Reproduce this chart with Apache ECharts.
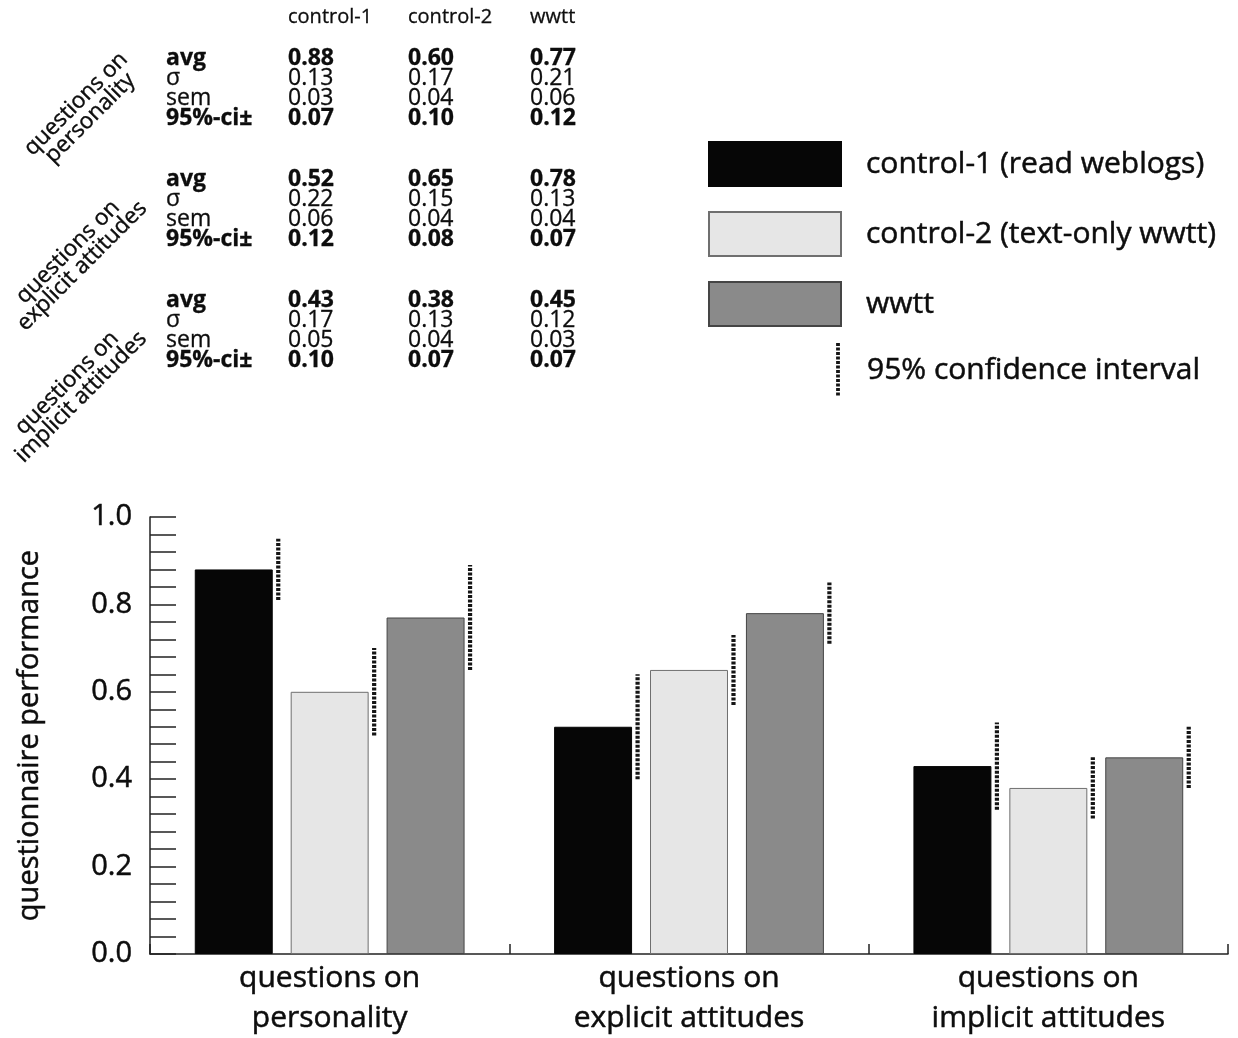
<!DOCTYPE html>
<html>
<head>
<meta charset="utf-8">
<script src="https://cdn.jsdelivr.net/npm/echarts@6/dist/echarts.min.js"></script>
<style>
html,body{margin:0;padding:0;background:#fff;}
#chart{width:1238px;height:1038px;}
</style>
</head>
<body>
<div id="chart"></div>
<script>
// ---------- data ----------
var categories = ['questions on\npersonality', 'questions on\nexplicit attitudes', 'questions on\nimplicit attitudes'];
var seriesNames = ['control-1 (read weblogs)', 'control-2 (text-only wwtt)', 'wwtt'];
var tableColumns = ['control-1', 'control-2', 'wwtt'];
var tableRowLabels = ['avg', 'σ', 'sem', '95%-ci±'];

var control1Avg = [0.88, 0.52, 0.43];
var control2Avg = [0.60, 0.65, 0.38];
var wwttAvg     = [0.77, 0.78, 0.45];

var control1Sigma = [0.13, 0.22, 0.17];
var control2Sigma = [0.17, 0.15, 0.13];
var wwttSigma     = [0.21, 0.13, 0.12];

var control1Sem = [0.03, 0.06, 0.05];
var control2Sem = [0.04, 0.04, 0.04];
var wwttSem     = [0.06, 0.04, 0.03];

var control1Ci = [0.07, 0.12, 0.10];
var control2Ci = [0.10, 0.08, 0.07];
var wwttCi     = [0.12, 0.07, 0.07];

var ciLegendLabel = '95% confidence interval';
var yAxisName = 'questionnaire performance';

// ---------- derived ----------
var avgs = [control1Avg, control2Avg, wwttAvg];
var cis = [control1Ci, control2Ci, wwttCi];

var errData = [];
for (var k = 0; k < 3; k++) {
  for (var i = 0; i < categories.length; i++) {
    errData.push([i, avgs[k][i] - cis[k][i], avgs[k][i] + cis[k][i], k]);
  }
}

var BAR_W = 0.217, BAR_GAP = 0.23;
var FONT = "'Open Sans', 'Noto Sans', sans-serif";
var INK = '#0d0d0d';

var barStyles = [
  {color: '#060606', borderColor: '#060606', borderWidth: 1},
  {color: '#e6e6e6', borderColor: '#6f6f6f', borderWidth: 1},
  {color: '#8a8a8a', borderColor: '#454545', borderWidth: 1}
];

var series = [];
for (var s = 0; s < 3; s++) {
  series.push({
    name: seriesNames[s],
    type: 'bar',
    data: avgs[s],
    barWidth: (BAR_W * 100) + '%',
    barGap: (BAR_GAP * 100) + '%',
    itemStyle: barStyles[s],
    emphasis: {disabled: true},
    animation: false
  });
}
series.push({
  name: ciLegendLabel,
  type: 'custom',
  data: errData,
  encode: {x: 0, y: [1, 2]},
  animation: false,
  z: 5,
  renderItem: function (params, api) {
    var cat = api.value(0), lo = api.value(1), hi = api.value(2), k = api.value(3);
    var band = api.size([1, 0])[0];
    var bw = band * BAR_W;
    var gap = bw * BAR_GAP;
    var center = api.coord([cat, 0])[0];
    var x = center + (k - 1) * (bw + gap) + bw / 2 + 5.5;
    var p1 = api.coord([cat, lo]);
    var p2 = api.coord([cat, hi]);
    return {
      type: 'line',
      shape: {x1: x, y1: p1[1], x2: x, y2: p2[1]},
      style: {stroke: '#151515', lineWidth: 4.2, lineDash: [3, 1.5]}
    };
  }
});

// ---------- table + labels as graphic ----------
var graphics = [];
var colX = [288, 408, 530];
var groupY = [58, 179, 300];
var rowStep = 20;
for (var c = 0; c < 3; c++) {
  graphics.push({type: 'text', x: colX[c], y: 17, style: {text: tableColumns[c], font: '20px ' + FONT, fill: INK, stroke: INK, lineWidth: 0.3, textAlign: 'left', textVerticalAlign: 'middle'}});
}
var groupLabels = ['questions on\npersonality', 'questions on\nexplicit attitudes', 'questions on\nimplicit attitudes'];
var groupLabelPos = [[83, 111], [75, 259], [74, 390]];
for (var g = 0; g < 3; g++) {
  graphics.push({
    type: 'text', x: groupLabelPos[g][0], y: groupLabelPos[g][1], rotation: Math.PI / 4,
    style: {text: groupLabels[g], font: '22.5px ' + FONT, fill: INK, stroke: INK, lineWidth: 0.4, textAlign: 'center', textVerticalAlign: 'middle', lineHeight: 20}
  });
  var rowsVals = [
    [control1Avg[g], control2Avg[g], wwttAvg[g]],
    [control1Sigma[g], control2Sigma[g], wwttSigma[g]],
    [control1Sem[g], control2Sem[g], wwttSem[g]],
    [control1Ci[g], control2Ci[g], wwttCi[g]]
  ];
  for (var r = 0; r < 4; r++) {
    var bold = (r === 0 || r === 3);
    var f = (bold ? 'bold ' : '') + '23px ' + FONT;
    var y = groupY[g] + r * rowStep;
    graphics.push({type: 'text', x: 166, y: y, style: {text: tableRowLabels[r], font: f, fill: INK, stroke: INK, lineWidth: 0.3, textAlign: 'left', textVerticalAlign: 'middle'}});
    for (var c2 = 0; c2 < 3; c2++) {
      graphics.push({type: 'text', x: colX[c2], y: y, style: {text: rowsVals[r][c2].toFixed(2), font: f, fill: INK, stroke: INK, lineWidth: 0.3, textAlign: 'left', textVerticalAlign: 'middle'}});
    }
  }
}
// CI legend item
graphics.push({type: 'line', shape: {x1: 838, y1: 343, x2: 838, y2: 397}, style: {stroke: '#151515', lineWidth: 3.8, lineDash: [3, 1.5]}});
graphics.push({type: 'text', x: 867, y: 370, style: {text: ciLegendLabel, font: '30px ' + FONT, fill: INK, stroke: INK, lineWidth: 0.5, textAlign: 'left', textVerticalAlign: 'middle'}});

var chart = echarts.init(document.getElementById('chart'), null, {renderer: 'canvas'});
chart.setOption({
  backgroundColor: '#ffffff',
  animation: false,
  textStyle: {fontFamily: FONT},
  grid: {left: 150, right: 10, top: 517, bottom: 82, containLabel: false},
  legend: {
    data: seriesNames,
    icon: 'rect',
    orient: 'vertical',
    left: 708, top: 141,
    itemWidth: 132, itemHeight: 44, itemGap: 24,
    padding: 0,
    selectedMode: false,
    textStyle: {fontSize: 30, color: INK, fontFamily: FONT, padding: [0, 0, 0, 20], textBorderColor: INK, textBorderWidth: 0.5}
  },
  xAxis: {
    type: 'category',
    data: categories,
    axisLine: {lineStyle: {color: '#222', width: 1.5}},
    axisTick: {show: true, inside: true, length: 10, lineStyle: {color: '#222', width: 1.5}},
    axisLabel: {fontSize: 30, lineHeight: 40, margin: 4, color: INK, fontFamily: FONT, textBorderColor: INK, textBorderWidth: 0.5},
    splitLine: {show: false}
  },
  yAxis: {
    type: 'value',
    min: 0, max: 1, interval: 0.2,
    name: yAxisName,
    nameLocation: 'middle',
    nameRotate: 90,
    nameGap: 106,
    nameTextStyle: {fontSize: 29, color: INK, fontFamily: FONT, textBorderColor: INK, textBorderWidth: 0.5},
    axisLine: {show: true, lineStyle: {color: '#222', width: 1.5}},
    axisTick: {show: true, inside: true, length: 26, lineStyle: {color: '#222', width: 1.5}},
    minorTick: {show: true, splitNumber: 5, length: 26, lineStyle: {color: '#222', width: 1.5}},
    axisLabel: {fontSize: 29, margin: 18, color: INK, textBorderColor: INK, textBorderWidth: 0.5, formatter: function (v) { return v.toFixed(1); }},
    splitLine: {show: false}
  },
  series: series,
  graphic: graphics
});
</script>
</body>
</html>
